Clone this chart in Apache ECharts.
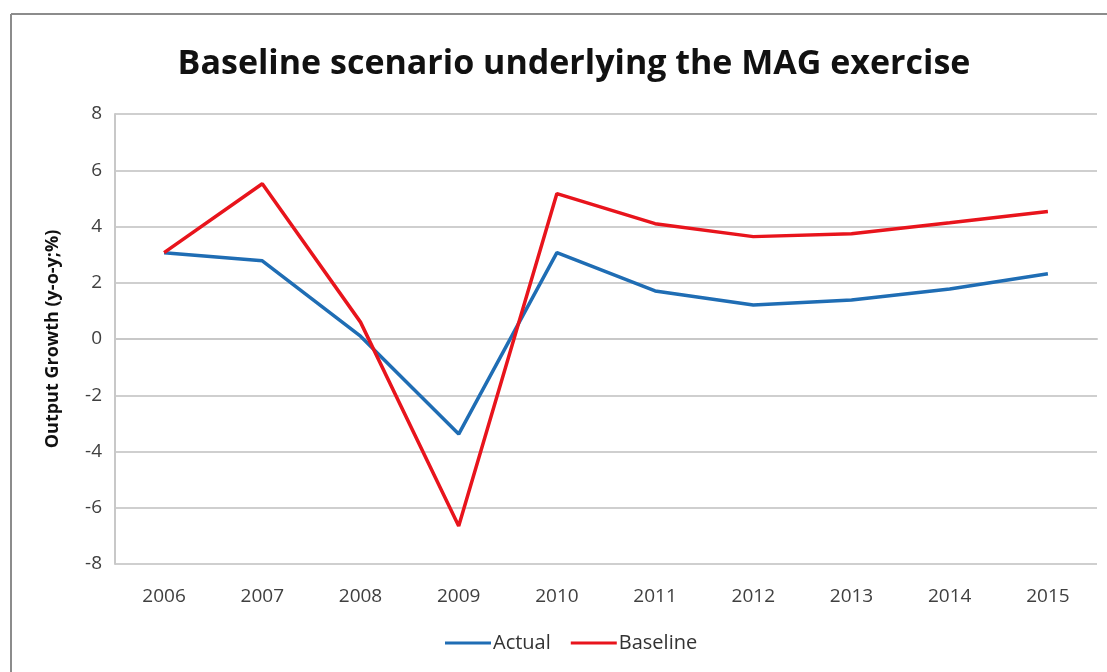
<!DOCTYPE html>
<html>
<head>
<meta charset="utf-8">
<script src="https://cdn.jsdelivr.net/npm/echarts@6/dist/echarts.min.js"></script>
<style>
  html, body { margin: 0; padding: 0; background: #fff; }
  #chart { width: 1107px; height: 672px; }
</style>
</head>
<body>
<div id="chart"></div>
<script>
// Output growth, year on year (%)
const years = ['2006', '2007', '2008', '2009', '2010', '2011', '2012', '2013', '2014', '2015'];
const actual = [3.07, 2.78, 0.1, -3.38, 3.07, 1.71, 1.21, 1.39, 1.78, 2.32];
const baseline = [3.07, 5.52, 0.6, -6.65, 5.17, 4.1, 3.64, 3.74, 4.13, 4.53];
const yTicks = { min: -8, max: 8, step: 2 };

const FONT = '"Open Sans", Lato, sans-serif';
const chart = echarts.init(document.getElementById('chart'), null, { renderer: 'canvas' });

chart.setOption({
  backgroundColor: '#fff',
  animation: false,
  title: {
    text: 'Baseline scenario underlying the MAG exercise',
    left: 569,
    textAlign: 'center',
    top: 42,
    textStyle: { fontFamily: FONT, fontWeight: 'bold', fontSize: 34, color: '#111' }
  },
  graphic: [
    { type: 'line', shape: { x1: 11, y1: 14, x2: 1107, y2: 14 }, style: { stroke: '#8c8c8c', lineWidth: 2 } },
    { type: 'line', shape: { x1: 11, y1: 14, x2: 11, y2: 672 }, style: { stroke: '#8c8c8c', lineWidth: 2 } }
  ],
  legend: {
    bottom: 14,
    left: 440,
    icon: 'rect',
    itemWidth: 46,
    itemHeight: 3,
    itemGap: 20,
    textStyle: { fontFamily: FONT, fontSize: 20, color: '#333', padding: [0, 0, 0, -3] },
    data: ['Actual', 'Baseline']
  },
  grid: { left: 115, right: 10, top: 114, bottom: 108 },
  xAxis: {
    type: 'category',
    data: years,
    boundaryGap: true,
    axisLine: { show: true, lineStyle: { color: '#c8c8c8', width: 2 } },
    axisTick: { show: false },
    axisLabel: { margin: 23, fontFamily: FONT, fontSize: 19, color: '#404040' }
  },
  yAxis: {
    type: 'value',
    min: yTicks.min,
    max: yTicks.max,
    interval: yTicks.step,
    name: 'Output Growth (y-o-y;%)',
    nameLocation: 'middle',
    nameGap: 53,
    nameTextStyle: { fontFamily: FONT, fontWeight: 'bold', fontSize: 18, color: '#111' },
    axisLine: { show: true, lineStyle: { color: '#c8c8c8', width: 2 } },
    axisTick: { show: false },
    axisLabel: { margin: 13, fontFamily: FONT, fontSize: 19, color: '#404040' },
    splitLine: { show: true, lineStyle: { color: '#cfcfcf', width: 2 } }
  },
  series: [
    {
      name: 'Actual',
      type: 'line',
      data: actual,
      symbol: 'none',
      lineStyle: { color: '#1f6db4', width: 3.5 },
      itemStyle: { color: '#1f6db4' }
    },
    {
      name: 'Baseline',
      type: 'line',
      data: baseline,
      symbol: 'none',
      lineStyle: { color: '#e8141c', width: 3.5 },
      itemStyle: { color: '#e8141c' }
    }
  ]
});
</script>
</body>
</html>
